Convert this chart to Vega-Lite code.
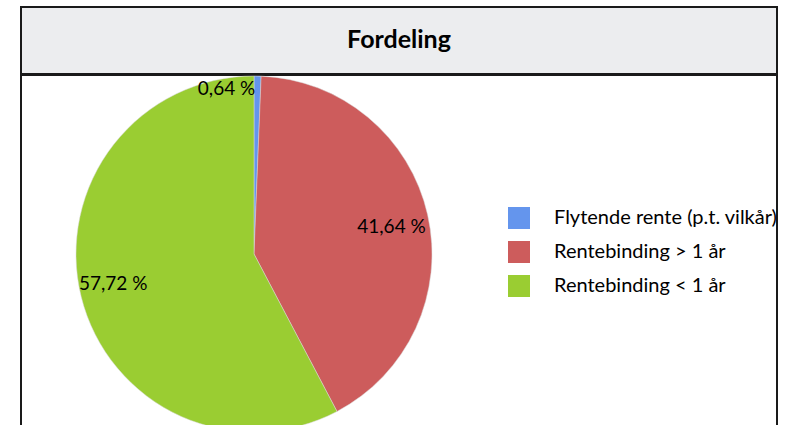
{
  "$schema": "https://vega.github.io/schema/vega-lite/v6.json",
  "padding": {"left": 20, "top": 6, "right": 0, "bottom": 0},
  "background": "white",
  "spacing": -2,
  "config": {
    "font": "Lato",
    "view": {"stroke": "#1a1a1a", "strokeWidth": 2}
  },
  "vconcat": [
    {
      "width": 756,
      "height": 67,
      "view": {"fill": "#ECEDEF", "stroke": "#1a1a1a", "strokeWidth": 2},
      "data": {"values": [{"tittel": "Fordeling"}]},
      "mark": {"type": "text", "font": "Lato", "fontWeight": "bold", "fontSize": 25, "color": "#000000", "baseline": "middle", "align": "center", "dy": -1},
      "encoding": {"text": {"field": "tittel"}}
    },
    {
      "width": 756,
      "height": 362,
      "view": {"stroke": "#1a1a1a", "strokeWidth": 2},
      "data": {
        "values": [
          {"kategori": "Flytende rente (p.t. vilkår)", "andel": 0.64, "rekkefolge": 1},
          {"kategori": "Rentebinding > 1 år", "andel": 41.64, "rekkefolge": 2},
          {"kategori": "Rentebinding < 1 år", "andel": 57.72, "rekkefolge": 3}
        ]
      },
      "transform": [
        {"calculate": "replace(format(datum.andel, '.2f'), '.', ',') + ' %'", "as": "etikett"}
      ],
      "encoding": {
        "theta": {"field": "andel", "type": "quantitative", "stack": true},
        "order": {"field": "rekkefolge", "type": "quantitative"},
        "color": {
          "field": "kategori",
          "type": "nominal",
          "sort": ["Flytende rente (p.t. vilkår)", "Rentebinding > 1 år", "Rentebinding < 1 år"],
          "scale": {
            "domain": ["Flytende rente (p.t. vilkår)", "Rentebinding > 1 år", "Rentebinding < 1 år"],
            "range": ["#6495ED", "#CD5C5C", "#9ACD32"]
          },
          "legend": {
            "title": null,
            "orient": "none",
            "legendX": 487,
            "legendY": 200,
            "padding": 0,
            "symbolType": "square",
            "symbolSize": 484,
            "symbolStrokeWidth": 0,
            "symbolOpacity": 1,
            "labelFont": "Lato",
            "labelFontSize": 20,
            "labelColor": "#000000",
            "labelOffset": 24,
            "labelLimit": 260,
            "rowPadding": 12
          }
        }
      },
      "layer": [
        {
          "mark": {"type": "arc", "outerRadius": 178, "x": 233, "y": 179, "stroke": "#d8d8d8", "strokeWidth": 0.5}
        },
        {
          "mark": {
            "type": "text",
            "x": 233,
            "y": 179,
            "radius": {"expr": "datum.rekkefolge == 1 ? 165 : 142"},
            "align": {"expr": "datum.rekkefolge == 1 ? 'right' : 'center'"},
            "dx": {"expr": "datum.rekkefolge == 1 ? -2 : (datum.rekkefolge == 3 ? -3 : -1)"},
            "dy": {"expr": "datum.rekkefolge == 1 ? 0 : (datum.rekkefolge == 2 ? 4 : -4)"},
            "baseline": "middle",
            "fontSize": 19,
            "font": "Lato",
            "color": "#000000"
          },
          "encoding": {"text": {"field": "etikett"}, "color": {"value": "#000000"}}
        }
      ]
    }
  ]
}
